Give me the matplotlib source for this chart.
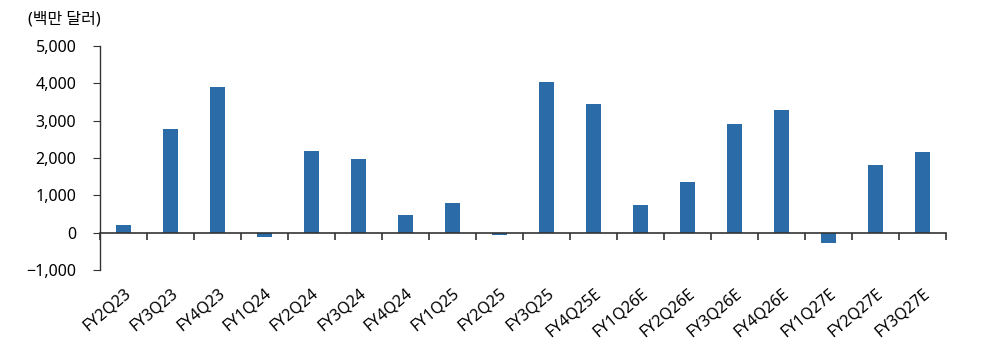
import matplotlib
matplotlib.use("Agg")
import matplotlib.pyplot as plt
import numpy as np

plt.rcParams['font.family'] = ['Noto Sans', 'Noto Sans CJK KR', 'DejaVu Sans']

quarters = ['FY2Q23', 'FY3Q23', 'FY4Q23', 'FY1Q24', 'FY2Q24', 'FY3Q24',
            'FY4Q24', 'FY1Q25', 'FY2Q25', 'FY3Q25', 'FY4Q25E', 'FY1Q26E',
            'FY2Q26E', 'FY3Q26E', 'FY4Q26E', 'FY1Q27E', 'FY2Q27E', 'FY3Q27E']
values = [210, 2780, 3900, -110, 2190, 1960,
          470, 790, -50, 4040, 3450, 730,
          1370, 2920, 3290, -280, 1800, 2170]
yticks = [-1000, 0, 1000, 2000, 3000, 4000, 5000]
unit_label = '(백만 달러)'

bar_color = '#2B6CA8'
axis_color = '#333333'

fig = plt.figure(figsize=(9.89, 3.52), dpi=100)
ax = fig.add_axes([100/989, 1 - 270/352, 846/989, 224/352])

x = np.arange(len(quarters))
ax.bar(x, values, width=0.3, color=bar_color, zorder=2)

ax.set_xlim(-0.5, len(quarters) - 0.5)
ax.set_ylim(-1000, 5000)
ax.set_yticks(yticks)
ax.set_yticklabels(['{:,}'.format(v).replace('-', '\u2212') for v in yticks], fontsize=11.5)

for s in ['top', 'right']:
    ax.spines[s].set_visible(False)
ax.spines['bottom'].set_position(('data', 0))
ax.spines['bottom'].set_color(axis_color)
ax.spines['bottom'].set_linewidth(1.2)
ax.spines['left'].set_color(axis_color)
ax.spines['left'].set_linewidth(1.0)
ax.tick_params(axis='y', direction='out', length=5, color=axis_color, pad=12)

# boundary ticks on the zero line, labels pushed below the plot
ax.set_xticks(np.arange(len(quarters) + 1) - 0.5, minor=True)
ax.set_xticks(x)
ax.set_xticklabels(quarters, rotation=40, ha='right', rotation_mode='anchor', fontsize=11.5)
ax.tick_params(axis='x', which='major', length=0, pad=38)
ax.tick_params(axis='x', which='minor', direction='out', length=5, color=axis_color, width=1.2)

fig.text(28/989, 1 - 20/352, unit_label, fontsize=11.5, va='center', ha='left')

fig.savefig('out.png', dpi=100)
